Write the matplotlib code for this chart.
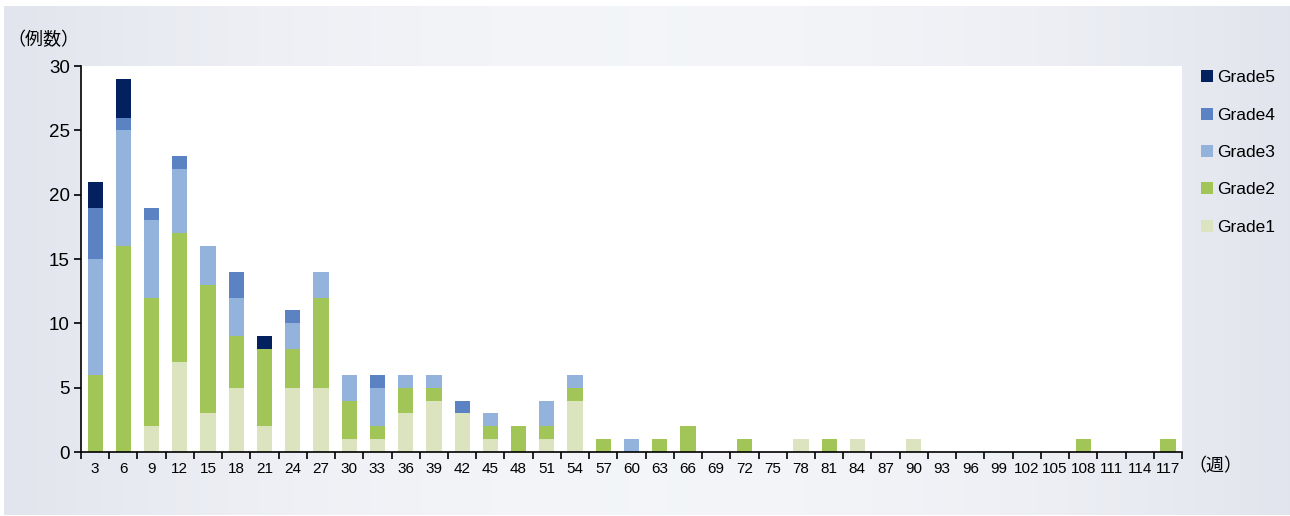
import matplotlib
matplotlib.use('Agg')
import matplotlib.pyplot as plt
from matplotlib.patches import Patch
import numpy as np

# Weeks (x categories)
weeks = [3, 6, 9, 12, 15, 18, 21, 24, 27, 30, 33, 36, 39, 42, 45, 48, 51, 54, 57,
         60, 63, 66, 69, 72, 75, 78, 81, 84, 87, 90, 93, 96, 99, 102, 105, 108,
         111, 114, 117]

# Counts per grade for each week
grade1 = [0, 0, 2, 7, 3, 5, 2, 5, 5, 1, 1, 3, 4, 3, 1, 0, 1, 4, 0,
          0, 0, 0, 0, 0, 0, 1, 0, 1, 0, 1, 0, 0, 0, 0, 0, 0, 0, 0, 0]
grade2 = [6, 16, 10, 10, 10, 4, 6, 3, 7, 3, 1, 2, 1, 0, 1, 2, 1, 1, 1,
          0, 1, 2, 0, 1, 0, 0, 1, 0, 0, 0, 0, 0, 0, 0, 0, 1, 0, 0, 1]
grade3 = [9, 9, 6, 5, 3, 3, 0, 2, 2, 2, 3, 1, 1, 0, 1, 0, 2, 1, 0,
          1, 0, 0, 0, 0, 0, 0, 0, 0, 0, 0, 0, 0, 0, 0, 0, 0, 0, 0, 0]
grade4 = [4, 1, 1, 1, 0, 2, 0, 1, 0, 0, 1, 0, 0, 1, 0, 0, 0, 0, 0,
          0, 0, 0, 0, 0, 0, 0, 0, 0, 0, 0, 0, 0, 0, 0, 0, 0, 0, 0, 0]
grade5 = [2, 3, 0, 0, 0, 0, 1, 0, 0, 0, 0, 0, 0, 0, 0, 0, 0, 0, 0,
          0, 0, 0, 0, 0, 0, 0, 0, 0, 0, 0, 0, 0, 0, 0, 0, 0, 0, 0, 0]

grade_names = ['Grade1', 'Grade2', 'Grade3', 'Grade4', 'Grade5']
grade_colors = ['#dce3bf', '#a2c557', '#93b2dc', '#5b82c3', '#03215f']

plt.rcParams['font.family'] = ['Liberation Sans', 'Noto Sans CJK JP', 'DejaVu Sans']

fig = plt.figure(figsize=(12.9, 5.16), dpi=100)

# Background panel with a soft horizontal gradient
bg = fig.add_axes([0.003, 0.002, 0.997, 0.986], zorder=-1)
t = np.linspace(0, 1, 400)
shade = 1 - (2 * (t - 0.5)) ** 2
c_edge = np.array([0.888, 0.896, 0.933])
c_mid = np.array([0.953, 0.961, 0.973])
grad = c_edge[None, :] + shade[:, None] * (c_mid - c_edge)[None, :]
bg.imshow(grad[None, :, :], aspect='auto', extent=[0, 1, 0, 1])
bg.set_axis_off()

# Main plot
ax = fig.add_axes([0.0628, 0.124, 0.8535, 0.748])
ax.set_facecolor('white')

x = np.arange(len(weeks))
bottom = np.zeros(len(weeks))
series = [grade1, grade2, grade3, grade4, grade5]
for vals, color in zip(series, grade_colors):
    vals = np.array(vals)
    ax.bar(x, vals, width=0.54, bottom=bottom, color=color, edgecolor='none')
    bottom += vals

ax.set_xlim(-0.5, len(weeks) - 0.5)
ax.set_ylim(0, 30)
ax.set_yticks([0, 5, 10, 15, 20, 25, 30])

# Category labels centred, ticks at the bin boundaries
ax.set_xticks(x)
ax.set_xticklabels([str(w) for w in weeks], fontsize=11)
ax.set_xticks(np.arange(-0.5, len(weeks)), minor=True)
ax.tick_params(axis='x', which='major', length=0, pad=7.5)
ax.tick_params(axis='x', which='minor', length=5, width=1.2, direction='out', color='black')
ax.tick_params(axis='y', length=5, width=1.2, direction='out', labelsize=13.5, pad=3)

for side in ['top', 'right']:
    ax.spines[side].set_visible(False)
for side in ['left', 'bottom']:
    ax.spines[side].set_linewidth(1.2)
    ax.spines[side].set_color('black')

# Axis unit labels
fig.text(0.006, 0.922, '（例数）', fontsize=13, ha='left', va='center')
fig.text(0.921, 0.096, '（週）', fontsize=13, ha='left', va='center')

# Legend, Grade5 on top
handles = [Patch(facecolor=c, edgecolor='none') for c in grade_colors[::-1]]
fig.legend(handles, grade_names[::-1], loc='upper left',
           bbox_to_anchor=(0.931, 0.864), frameon=False, fontsize=12.5,
           handlelength=0.7, handleheight=0.7, handletextpad=0.25,
           labelspacing=1.28, borderpad=0, borderaxespad=0)

plt.savefig('out.png', dpi=100)
